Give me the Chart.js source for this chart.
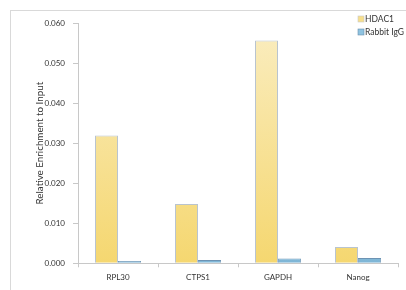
<!DOCTYPE html>
<html>
<head>
<meta charset="utf-8">
<script src="https://cdn.jsdelivr.net/npm/chart.js@4"></script>
<style>
    body { margin: 0; background: #fff; }
    #wrap { position: relative; width: 406px; height: 290px; overflow: hidden; }
    #frame { position: absolute; left: 10px; top: 10px; width: 600px; height: 400px; border: 1px solid #d9d9d9; }
    canvas { position: absolute; left: 0; top: 0; }
</style>
</head>
<body>
<div id="wrap">
    <div id="frame"></div>
    <canvas id="grafico" width="406" height="290"></canvas>
</div>
<script>
const categorias = ['RPL30', 'CTPS1', 'GAPDH', 'Nanog']
const hdac1 = [0.0319, 0.0148, 0.0556, 0.0041]
const rabbitIgG = [0.0006, 0.0008, 0.0012, 0.0013]
const ticksY = [0, 0.01, 0.02, 0.03, 0.04, 0.05, 0.06]

const fonte = 'Lato, "Open Sans", sans-serif'

function gradiente(chart, topo, base) {
    const area = chart.chartArea
    if (!area) return base
    const g = chart.ctx.createLinearGradient(0, area.top, 0, area.bottom)
    g.addColorStop(0, topo)
    g.addColorStop(1, base)
    return g
}

// legenda desenhada dentro da area, como no Excel
const legendaPlugin = {
    id: 'legendaExcel',
    afterDraw(chart) {
        const ctx = chart.ctx
        const cores = ['#f7df8c', '#8fc3e0']
        const bordas = ['#c9c9c9', '#6a8fb0']
        ctx.save()
        ctx.font = '8.5px ' + fonte
        ctx.textBaseline = 'middle'
        chart.data.datasets.forEach((ds, i) => {
            const y = 19 + i * 13
            ctx.fillStyle = cores[i]
            ctx.fillRect(358, y - 3, 6, 6)
            ctx.strokeStyle = bordas[i]
            ctx.lineWidth = 0.6
            ctx.strokeRect(358, y - 3, 6, 6)
            ctx.fillStyle = '#333'
            ctx.fillText(ds.label, 365, y)
        })
        ctx.restore()
    }
}

const ctx = document.getElementById('grafico')

new Chart(ctx, {
    type: 'bar',
    data: {
        labels: categorias,
        datasets: [{
            label: 'HDAC1',
            data: hdac1,
            backgroundColor: c => gradiente(c.chart, '#faedc0', '#f5d770'),
            borderColor: '#b9c4cf',
            borderWidth: 1
        }, {
            label: 'Rabbit IgG',
            data: rabbitIgG,
            backgroundColor: c => gradiente(c.chart, '#c6e3f2', '#7fb6d6'),
            borderColor: '#6d93b3',
            borderWidth: 0.8
        }]
    },
    options: {
        responsive: false,
        animation: false,
        layout: { padding: { top: 23, right: 8, left: 34, bottom: 0 } },
        categoryPercentage: 0.575,
        barPercentage: 1,
        plugins: {
            legend: { display: false },
            tooltip: { enabled: false }
        },
        scales: {
            x: {
                grid: {
                    display: true,
                    drawOnChartArea: false,
                    drawTicks: true,
                    tickLength: 4,
                    color: '#c8c8c8',
                    offset: true
                },
                border: { color: '#c8c8c8' },
                ticks: { color: '#333', font: { family: fonte, size: 8 }, padding: 5 },
                afterFit: s => { s.height = 26.7 }
            },
            y: {
                min: 0,
                max: 0.06,
                afterBuildTicks: s => { s.ticks = ticksY.map(v => ({ value: v })) },
                grid: {
                    display: true,
                    drawOnChartArea: false,
                    drawTicks: true,
                    tickLength: 5,
                    color: '#c8c8c8'
                },
                border: { color: '#c8c8c8' },
                ticks: {
                    color: '#333',
                    font: { family: fonte, size: 8 },
                    padding: 8,
                    callback: v => v.toFixed(3)
                },
                title: {
                    display: true,
                    text: 'Relative Enrichment to Input',
                    color: '#333',
                    font: { family: fonte, size: 9.8 },
                    padding: { top: 0, bottom: 0 }
                },
                afterFit: s => { s.width = 44 }
            }
        }
    },
    plugins: [legendaPlugin]
})
</script>
</body>
</html>
